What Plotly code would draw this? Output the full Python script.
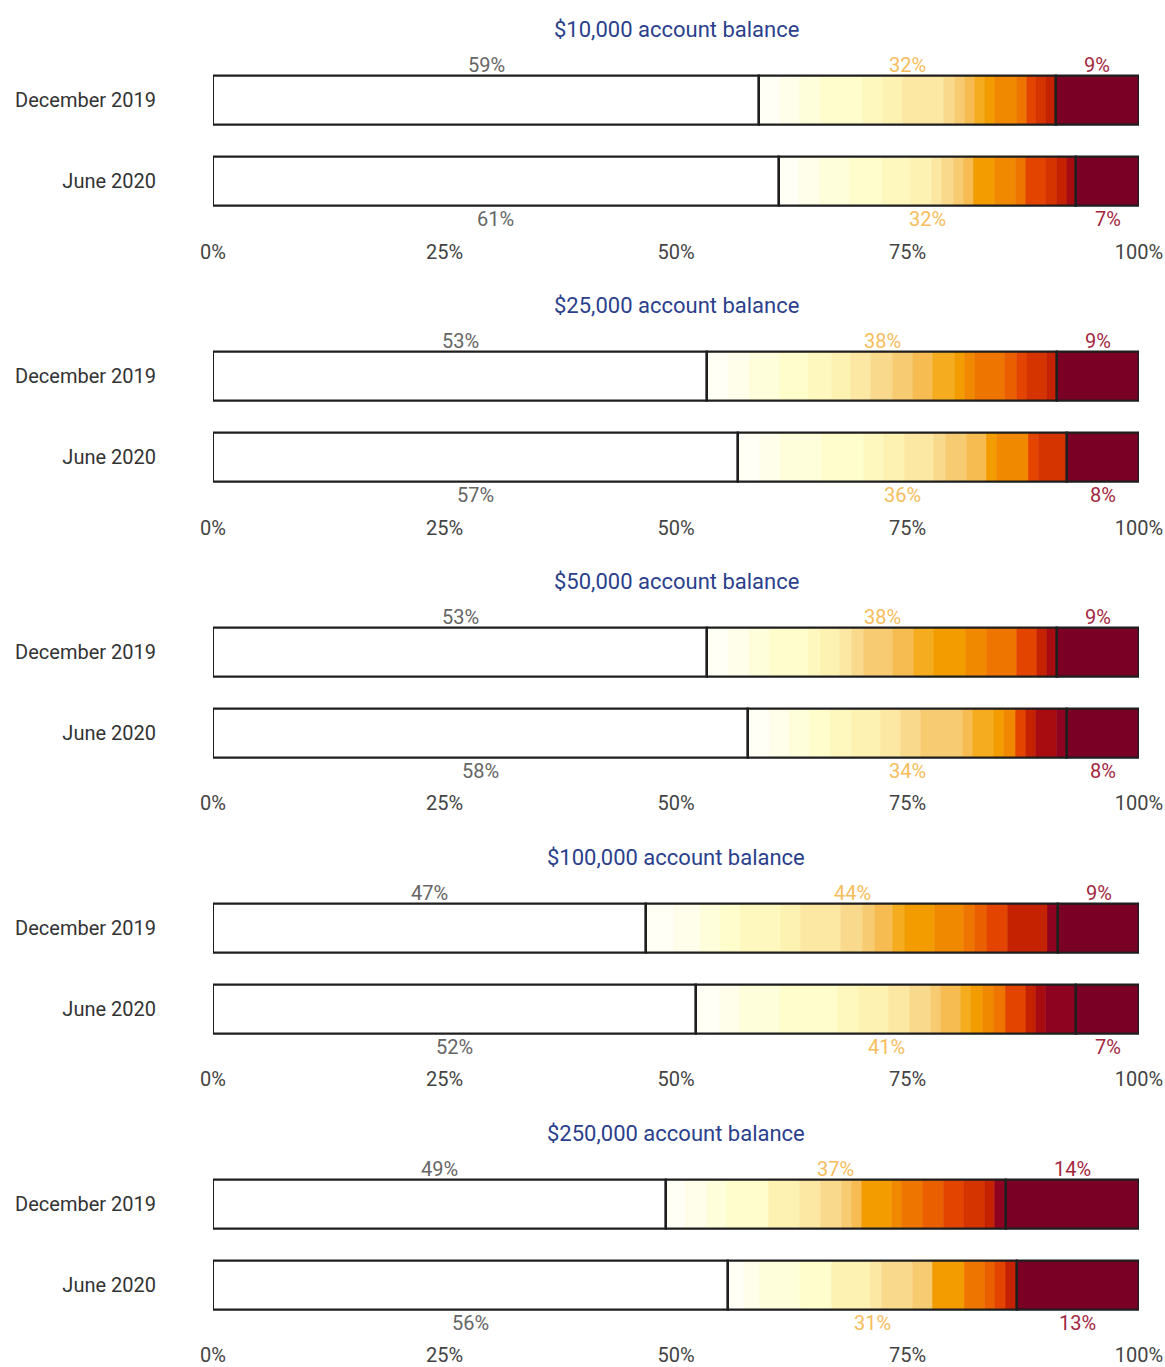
import numpy as np
import plotly.graph_objects as go
from plotly.subplots import make_subplots

# ---------------- data ----------------
panel_titles = ["$10,000 account balance", "$25,000 account balance", "$50,000 account balance",
                "$100,000 account balance", "$250,000 account balance"]
periods = ["December 2019", "June 2020"]
x_ticks = [0, 25, 50, 75, 100]
x_tick_labels = ["0%", "25%", "50%", "75%", "100%"]

# share of accounts in the lowest group (white), per panel: [Dec 2019, Jun 2020]
low_share = [[59.0, 61.1], [53.4, 56.7], [53.4, 57.8], [46.8, 52.2], [48.9, 55.6]]
# share of accounts in the highest group (dark red)
high_share = [[9.0, 6.8], [8.9, 7.8], [8.9, 7.8], [8.8, 6.8], [14.4, 13.2]]
# reported labels [low, middle, high]
labels_dec = [[59, 32, 9], [53, 38, 9], [53, 38, 9], [47, 44, 9], [49, 37, 14]]
labels_jun = [[61, 32, 7], [57, 36, 8], [58, 34, 8], [52, 41, 7], [56, 31, 13]]

# middle group broken into 20 graded levels (% of accounts per level)
mid_levels_dec = [
    [2.2, 2.2, 2.3, 4.5, 2.2, 2.1, 4.4, 1.2, 1.1, 1.1, 1.1, 1.0, 2.4, 1.1, 0, 1.0, 1.1, 1.0, 0, 0],
    [2.3, 2.3, 3.2, 3.2, 2.5, 2.0, 2.2, 2.3, 2.2, 2.2, 2.3, 1.1, 1.1, 3.2, 1.3, 1.1, 2.2, 1.0, 0, 0],
    [2.3, 2.3, 2.2, 4.2, 1.3, 2.0, 1.3, 1.3, 3.1, 2.3, 2.2, 3.4, 2.3, 3.2, 0, 2.2, 0, 1.1, 1.0, 0],
    [2.95, 2.9, 2.2, 2.2, 4.3, 2.2, 4.3, 2.3, 1.3, 2.0, 1.3, 3.2, 3.2, 1.1, 1.3, 2.3, 0, 4.3, 0, 1.1],
    [2.2, 2.2, 2.2, 4.5, 0, 3.4, 2.3, 2.2, 1.1, 1.1, 0, 3.2, 1.1, 2.3, 2.2, 2.2, 2.3, 1.1, 0, 1.1],
]
mid_levels_jun = [
    [2.2, 2.3, 3.2, 3.4, 3.2, 2.2, 1.1, 1.3, 1.1, 1.1, 0, 2.2, 2.3, 1.1, 0, 2.2, 1.1, 1.1, 1.0, 0],
    [2.4, 2.2, 4.5, 4.5, 2.2, 2.2, 3.2, 1.3, 2.2, 2.2, 0, 1.1, 3.4, 0, 0, 1.1, 3.0, 0, 0, 0],
    [2.3, 2.2, 2.2, 2.2, 2.3, 3.1, 2.2, 2.2, 4.5, 1.1, 2.2, 1.1, 1.3, 0, 0, 1.1, 0, 1.1, 2.2, 1.1],
    [2.5, 2.2, 4.3, 6.3, 2.3, 3.2, 2.3, 2.2, 1.1, 2.2, 1.1, 1.3, 1.1, 1.3, 0, 2.2, 0, 1.1, 1.1, 3.2],
    [1.7, 1.8, 4.3, 3.4, 0, 4.3, 1.1, 3.4, 2.2, 0, 0, 3.4, 0, 2.2, 1.1, 1.1, 0, 1.2, 0, 0],
]

# ---------------- style ----------------
level_colors = ["#FFFFF6", "#FFFEEA", "#FFFEDA", "#FFFDCB", "#FEF8BF", "#FDF2B1", "#FCE8A3",
                "#F9DA8D", "#F7CB71", "#F6BC52", "#F5AC1E", "#F39C00", "#F08800", "#EE7600",
                "#EA6000", "#E34500", "#D53300", "#C42200", "#A80C10", "#8E0420"]
low_color = "#FFFFFF"
high_color = "#7B0026"
edge = "#1E1E1E"
title_color = "#2B3F8C"
c_low_lbl, c_mid_lbl, c_high_lbl = "#666666", "#F6BD5C", "#A3283F"
font_family = "Roboto, Open Sans, sans-serif"

W, H = 1165, 1367
n = len(panel_titles)
fig = make_subplots(rows=n, cols=1)

bar_w = 0.605
for p in range(n):
    r = p + 1
    xa = "x" if p == 0 else f"x{r}"
    ya = "y" if p == 0 else f"y{r}"
    low = np.array(low_share[p])
    mids = np.array([mid_levels_dec[p], mid_levels_jun[p]])  # shape 2 x L
    mid_tot = mids.sum(axis=1)
    high = np.array(high_share[p])
    yv = [0, 1]

    fig.add_trace(go.Bar(x=low, base=[0, 0], y=yv, orientation="h", width=bar_w,
                         marker=dict(color=low_color, line=dict(color=edge, width=2.4)),
                         showlegend=False, hoverinfo="skip"), row=r, col=1)
    cum = low.copy()
    for L in range(mids.shape[1]):
        w = mids[:, L]
        if w.sum() > 0:
            fig.add_trace(go.Bar(x=w, base=cum.copy(), y=yv, orientation="h", width=bar_w,
                                 marker=dict(color=level_colors[L],
                                             line=dict(color=level_colors[L], width=0.6)),
                                 showlegend=False, hoverinfo="skip"), row=r, col=1)
        cum = cum + w
    fig.add_trace(go.Bar(x=mid_tot, base=low, y=yv, orientation="h", width=bar_w,
                         marker=dict(color="rgba(0,0,0,0)", line=dict(color=edge, width=2.4)),
                         showlegend=False, hoverinfo="skip"), row=r, col=1)
    fig.add_trace(go.Bar(x=high, base=low + mid_tot, y=yv, orientation="h", width=bar_w,
                         marker=dict(color=high_color, line=dict(color=edge, width=2.4)),
                         showlegend=False, hoverinfo="skip"), row=r, col=1)

    # value labels
    centers = [low / 2, low + mid_tot / 2, low + mid_tot + high / 2]
    cols = [c_low_lbl, c_mid_lbl, c_high_lbl]
    for k in range(3):
        fig.add_annotation(x=centers[k][0], y=-bar_w / 2, xref=xa, yref=ya, yanchor="bottom",
                           text=f"{labels_dec[p][k]}%", showarrow=False, yshift=-3,
                           font=dict(size=20, color=cols[k], family=font_family))
        fig.add_annotation(x=centers[k][1], y=1 + bar_w / 2, xref=xa, yref=ya, yanchor="top",
                           text=f"{labels_jun[p][k]}%", showarrow=False, yshift=1,
                           font=dict(size=20, color=cols[k], family=font_family))

    # domain
    top_px = 60 + 276.6 * p
    bot_px = 222 + 276.6 * p
    fig.update_yaxes(domain=[1 - bot_px / H, 1 - top_px / H], range=[1.5, -0.5],
                     tickvals=yv, ticktext=periods, showgrid=False, zeroline=False,
                     showline=False, ticks="", ticklabelstandoff=56,
                     tickfont=dict(size=20, color="#333333", family=font_family), row=r, col=1)
    fig.update_xaxes(range=[0, 100], tickvals=x_ticks, ticktext=x_tick_labels, showgrid=False,
                     zeroline=False, showline=False, ticks="", ticklabelstandoff=16,
                     tickfont=dict(size=20, color="#444444", family=font_family), row=r, col=1)
    fig.add_annotation(x=0.5, y=1 - (30 + 276.6 * p) / H, xref="paper", yref="paper",
                       text=panel_titles[p], showarrow=False, yanchor="middle",
                       font=dict(size=22, color=title_color, family=font_family))

fig.update_layout(width=W, height=H, barmode="overlay", bargap=0,
                  margin=dict(l=213, r=26, t=0, b=0),
                  paper_bgcolor="white", plot_bgcolor="white",
                  font=dict(family=font_family))
fig.write_html("out.html", config={"displayModeBar": False},
               post_script="document.body.style.margin='0px';document.body.style.overflow='hidden';")
